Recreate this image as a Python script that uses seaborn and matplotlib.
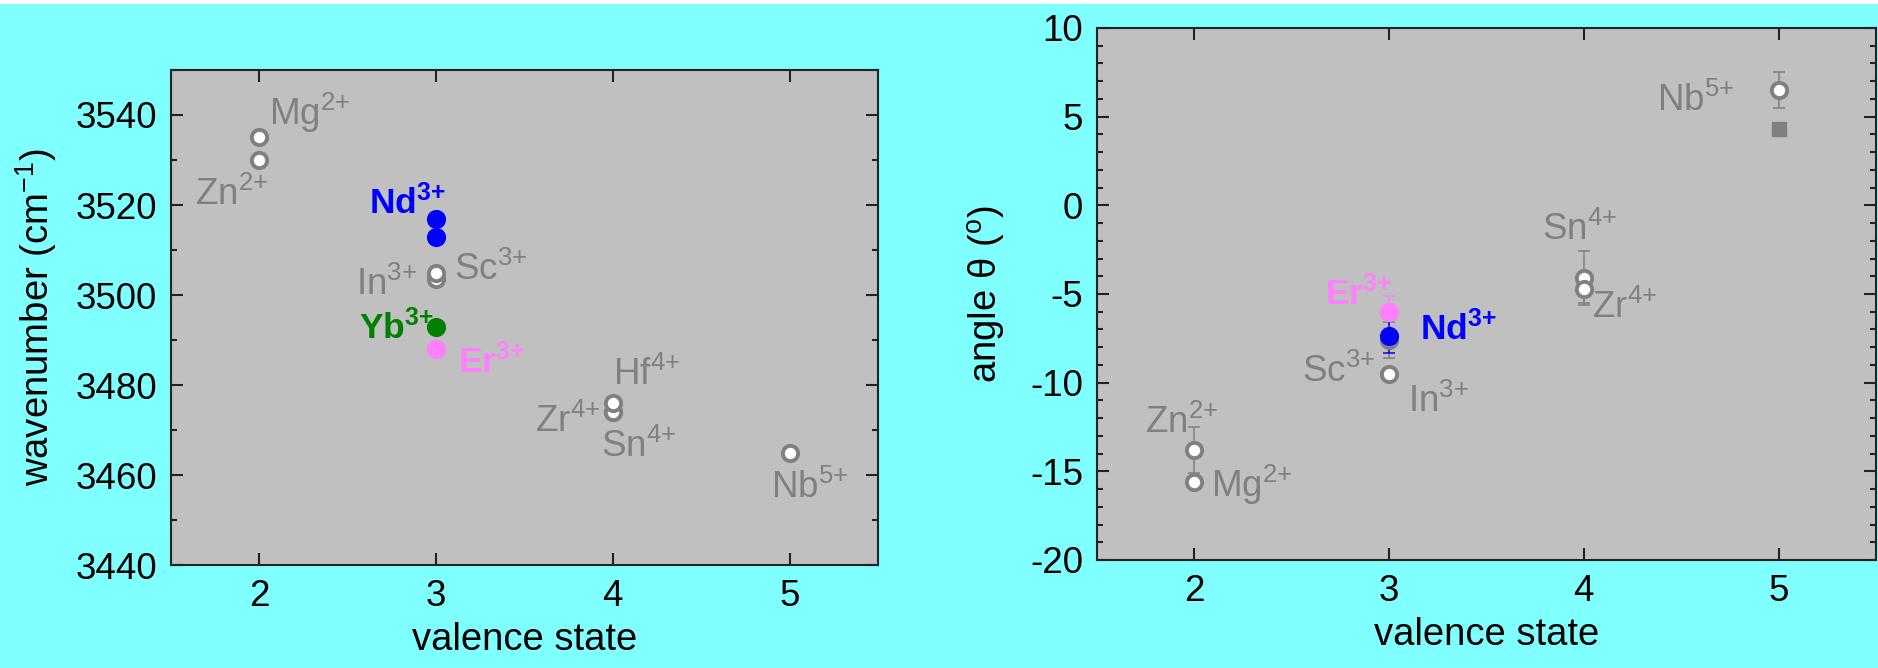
import matplotlib.pyplot as plt
import matplotlib.ticker as mticker
import pandas as pd
import seaborn as sns
from matplotlib.patches import Rectangle

# left panel: OH band position vs. valence of the dopant
wn_ions = ['Zn', 'Mg', 'In', 'Sc', 'Zr', 'Sn', 'Hf', 'Nb', 'Nd', 'Nd', 'Yb', 'Er']
wn_charge = ['2+', '2+', '3+', '3+', '4+', '4+', '4+', '5+', '3+', '3+', '3+', '3+']
wn_valence = [2, 2, 3, 3, 4, 4, 4, 5, 3, 3, 3, 3]
wavenumber = [3530, 3535, 3503.5, 3505, 3474, 3474, 3476, 3465, 3517, 3513, 3493, 3488]

# right panel: angle theta vs. valence
ang_ions = ['Zn', 'Mg', 'Sc', 'In', 'Sn', 'Zr', 'Nb', 'Er', 'Nd']
ang_charge = ['2+', '2+', '3+', '3+', '4+', '4+', '5+', '3+', '3+']
ang_valence = [2, 2, 3, 3, 4, 4, 5, 3, 3]
angle = [-13.8, -15.6, -7.6, -9.5, -4.1, -4.7, 6.5, -6.0, -7.35]
angle_err = [1.3, 0.3, 1.0, 0.3, 1.5, 0.8, 1.0, 0.9, 0.95]
nb_square_valence = [5]
nb_square_angle = [4.3]

df_wn = pd.DataFrame({'ion': wn_ions, 'charge': wn_charge, 'valence': wn_valence, 'wn': wavenumber})
df_ang = pd.DataFrame({'ion': ang_ions, 'charge': ang_charge, 'valence': ang_valence,
                       'angle': angle, 'err': angle_err})

plt.rcParams['font.family'] = ['Liberation Sans', 'DejaVu Sans']
plt.rcParams['mathtext.default'] = 'regular'
plt.rcParams['axes.unicode_minus'] = False

GRAY = '#808080'
colors = {'Nd': '#0000ff', 'Yb': '#008000', 'Er': '#ff80ff'}

# label offsets in pixels from the marker: (dx, dy, ha)
wn_offsets = {'Mg': (10, 12, 'left'), 'Zn': (9, -45, 'right'), 'Nd': (10, 5, 'right'),
              'In': (-19, -16, 'right'), 'Sc': (18, -7, 'left'), 'Yb': (-2, -12, 'right'),
              'Er': (22, -24, 'left'), 'Hf': (0, 18, 'left'), 'Zr': (-13, -20, 'right'),
              'Sn': (-12, -45, 'left'), 'Nb': (-19, -45, 'left')}
ang_offsets = {'Zn': (24, 17, 'right'), 'Mg': (17, -15, 'left'), 'Sc': (-14, -42, 'right'),
               'In': (19, -38, 'left'), 'Er': (3, 7, 'right'), 'Nd': (31, -4, 'left'),
               'Sn': (-42, 38, 'left'), 'Zr': (8, -29, 'left'), 'Nb': (-44, -21, 'right')}

fig = plt.figure(figsize=(18.78, 6.68), dpi=100, facecolor='#80ffff')
fig.patches.append(Rectangle((0, 1 - 4 / 668), 1, 4 / 668, transform=fig.transFigure,
                             facecolor='white', edgecolor='none'))
ax1 = fig.add_axes([0.09105, 0.15419, 0.37646, 0.74102])
ax2 = fig.add_axes([0.58413, 0.16168, 0.41480, 0.79641])

MS = 121
LW = 2.8


def draw_points(ax, df, ycol):
    ref = df[~df.ion.isin(colors.keys())]
    sns.scatterplot(data=ref, x='valence', y=ycol, ax=ax, color='white', edgecolor=GRAY,
                    linewidth=LW, s=MS, legend=False, zorder=3)
    for ion, c in colors.items():
        sub = df[df.ion == ion]
        if len(sub):
            sns.scatterplot(data=sub, x='valence', y=ycol, ax=ax, color=c, edgecolor=c,
                            linewidth=LW, s=MS, legend=False, zorder=4)


def label_points(ax, df, ycol, offsets):
    done = set()
    for _, r in df.iterrows():
        if r.ion in done:
            continue
        done.add(r.ion)
        dx, dy, ha = offsets[r.ion]
        special = r.ion in colors
        sup = r.charge[0] + '{+}'
        ax.annotate(r.ion + '$^{' + sup + '}$', xy=(r.valence, r[ycol]), xytext=(dx, dy),
                    textcoords='offset pixels', ha=ha, va='baseline',
                    fontsize=25.5 if special else 26.5,
                    fontweight='bold' if special else 'normal',
                    color=colors.get(r.ion, GRAY), zorder=5)


draw_points(ax1, df_wn, 'wn')
label_points(ax1, df_wn, 'wn', wn_offsets)

for _, r in df_ang.iterrows():
    ec = colors.get(r.ion, GRAY)
    ax2.errorbar(r.valence, r.angle, yerr=r.err, fmt='none', ecolor=ec, elinewidth=1.1,
                 capsize=4, capthick=1.1, zorder=2)
draw_points(ax2, df_ang, 'angle')
ax2.scatter(nb_square_valence, nb_square_angle, marker='s', s=106, color=GRAY, zorder=3)
label_points(ax2, df_ang, 'angle', ang_offsets)

ax1.set_ylim(3440, 3550)
ax1.yaxis.set_major_locator(mticker.MultipleLocator(20))
ax1.yaxis.set_minor_locator(mticker.MultipleLocator(10))
ax1.set_ylabel('wavenumber (cm$^{-1}$)', fontsize=27.5, labelpad=12)

ax2.set_ylim(-20, 10)
ax2.yaxis.set_major_locator(mticker.MultipleLocator(5))
ax2.yaxis.set_minor_locator(mticker.MultipleLocator(1))
ax2.set_ylabel('angle θ ($^{o}$)', fontsize=27.5, labelpad=16)

for ax in (ax1, ax2):
    ax.set_facecolor('#c0c0c0')
    ax.set_xlim(1.5, 5.5)
    ax.xaxis.set_major_locator(mticker.MultipleLocator(1))
    ax.set_xlabel('valence state', fontsize=27.5, labelpad=6)
    ax.tick_params(which='both', direction='in', top=True, right=True, width=1.5,
                   color='#222222', labelsize=26.5, pad=10)
    ax.tick_params(which='major', length=8.5)
    ax.tick_params(which='minor', length=4.5)
    for sp in ax.spines.values():
        sp.set_linewidth(1.5)
        sp.set_color('#222222')

fig.savefig('out.png', dpi=100, facecolor=fig.get_facecolor())
